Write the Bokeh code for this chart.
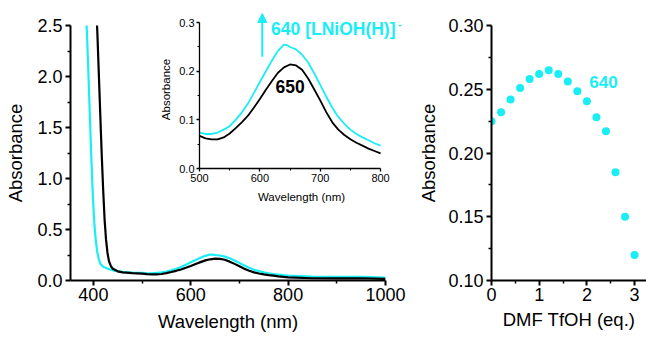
from bokeh.plotting import figure
from bokeh.layouts import row
from bokeh.models import Label, Arrow, NormalHead, Range1d, FixedTicker, PrintfTickFormatter
from bokeh.embed import file_html
from bokeh.resources import INLINE

# ---- data: spectra (wavelength nm, absorbance) ----
black_wl = [405, 408, 411, 414, 417, 420, 423, 426, 429, 432, 436, 440, 450, 460, 480,
            500, 510, 520, 530, 540, 550, 560, 570, 580, 590, 600, 610, 620, 630, 640,
            650, 660, 670, 680, 690, 700, 710, 720, 730, 740, 750, 760, 770, 780, 790,
            800, 850, 900, 950, 1000]
black_abs = [2.75, 2.45, 2.05, 1.65, 1.25, 0.90, 0.60, 0.40, 0.27, 0.19, 0.14, 0.115, 0.09, 0.08, 0.072,
             0.067, 0.062, 0.060, 0.060, 0.064, 0.072, 0.083, 0.095, 0.108, 0.125, 0.143, 0.162, 0.180, 0.197, 0.208,
             0.214, 0.212, 0.203, 0.185, 0.163, 0.140, 0.116, 0.095, 0.080, 0.069, 0.060, 0.053, 0.047, 0.041, 0.036,
             0.031, 0.022, 0.020, 0.022, 0.015]

cyan_wl = [384, 387, 390, 393, 396, 399, 402, 405, 408, 411, 415, 420, 430, 440, 450, 460, 480,
           500, 510, 520, 530, 540, 550, 560, 570, 580, 590, 600, 610, 620, 630, 640, 645,
           650, 660, 670, 680, 690, 700, 710, 720, 730, 740, 750, 760, 770, 780, 790,
           800, 850, 900, 950, 1000]
cyan_abs = [2.75, 2.40, 2.00, 1.58, 1.18, 0.82, 0.56, 0.39, 0.28, 0.21, 0.16, 0.135, 0.115, 0.10, 0.09, 0.084, 0.078,
            0.074, 0.071, 0.071, 0.074, 0.080, 0.087, 0.100, 0.115, 0.133, 0.155, 0.178, 0.200, 0.222, 0.242, 0.255, 0.254,
            0.250, 0.245, 0.234, 0.218, 0.196, 0.172, 0.148, 0.125, 0.106, 0.092, 0.080, 0.071, 0.064, 0.058, 0.052,
            0.047, 0.038, 0.036, 0.037, 0.028]

# ---- data: titration at 640 nm ----
eq_tfoh = [0.0, 0.2, 0.4, 0.6, 0.8, 1.0, 1.2, 1.4, 1.6, 1.8, 2.0, 2.2, 2.4, 2.6, 2.8, 3.0]
abs_640 = [0.225, 0.232, 0.242, 0.251, 0.258, 0.262, 0.265, 0.262, 0.256, 0.2485, 0.2405, 0.228, 0.217, 0.185, 0.150, 0.120]

main_x_ticks = [400, 600, 800, 1000]
main_y_ticks = [0.0, 0.5, 1.0, 1.5, 2.0, 2.5]
inset_x_ticks = [500, 600, 700, 800]
inset_y_ticks = [0.0, 0.1, 0.2, 0.3]
right_x_ticks = [0, 1, 2, 3]
right_y_ticks = [0.10, 0.15, 0.20, 0.25, 0.30]

CYAN = "#19EEF5"
FONT = "Liberation Sans"


def style_axes(p, tick_fs, label_fs, lw=2, tick_out=5, minor_out=3):
    for ax in list(p.xaxis) + list(p.yaxis):
        ax.axis_line_width = lw
        ax.axis_line_color = "black"
        ax.major_tick_line_width = lw
        ax.major_tick_line_color = "black"
        ax.minor_tick_line_width = lw * 0.75
        ax.minor_tick_line_color = "black"
        ax.major_tick_in = 0
        ax.major_tick_out = tick_out
        ax.minor_tick_in = 0
        ax.minor_tick_out = minor_out
        ax.major_label_text_font = FONT
        ax.major_label_text_font_size = tick_fs
        ax.major_label_text_color = "black"
        ax.axis_label_text_font = FONT
        ax.axis_label_text_font_size = label_fs
        ax.axis_label_text_font_style = "normal"
        ax.axis_label_text_color = "black"
    p.xgrid.visible = False
    p.ygrid.visible = False
    p.outline_line_color = None


# ---------------- main spectrum ----------------
main = figure(width=415, height=337, output_backend="svg", toolbar_location=None,
              x_range=Range1d(353, 1000), y_range=Range1d(0, 2.5),
              min_border_left=70, min_border_right=30, min_border_top=25, min_border_bottom=57)
main.line(cyan_wl, cyan_abs, line_color=CYAN, line_width=2.2)
main.line(black_wl, black_abs, line_color="black", line_width=2.2)
main.xaxis.ticker = FixedTicker(ticks=main_x_ticks, minor_ticks=[500, 700, 900])
main.yaxis.ticker = FixedTicker(ticks=main_y_ticks, minor_ticks=[0.25, 0.75, 1.25, 1.75, 2.25])
main.yaxis.formatter = PrintfTickFormatter(format="%.1f")
main.xaxis.axis_label = "Wavelength (nm)"
main.yaxis.axis_label = "Absorbance"
style_axes(main, "18px", "18.5px")
main.xaxis.major_label_standoff = 2
main.yaxis.major_label_standoff = 3
main.xaxis.axis_label_standoff = 7
main.yaxis.axis_label_standoff = 8

# ---------------- right: titration ----------------
right = figure(width=231, height=337, output_backend="svg", toolbar_location=None,
               x_range=Range1d(0, 3.25), y_range=Range1d(0.10, 0.30),
               min_border_left=74, min_border_right=0, min_border_top=25, min_border_bottom=54)
right.scatter(eq_tfoh, abs_640, size=8, fill_color=CYAN, line_color=None)
right.xaxis.ticker = FixedTicker(ticks=right_x_ticks, minor_ticks=[0.5, 1.5, 2.5])
right.yaxis.ticker = FixedTicker(ticks=right_y_ticks, minor_ticks=[0.125, 0.175, 0.225, 0.275])
right.yaxis.formatter = PrintfTickFormatter(format="%.2f")
right.xaxis.axis_label = "DMF TfOH (eq.)"
right.yaxis.axis_label = "Absorbance"
style_axes(right, "18px", "18.5px")
right.xaxis.major_label_standoff = 2
right.yaxis.major_label_standoff = 3
right.xaxis.axis_label_standoff = 5
right.yaxis.axis_label_standoff = 6
right.add_layout(Label(x=2.05, y=0.251, text="640", text_color=CYAN, text_font=FONT,
                       text_font_size="17px", text_font_style="bold"))

# ---------------- inset ----------------
in_black_wl = [w for w in black_wl if 500 <= w <= 800]
in_black_abs = [a for w, a in zip(black_wl, black_abs) if 500 <= w <= 800]
in_cyan_wl = [w for w in cyan_wl if 500 <= w <= 800]
in_cyan_abs = [a for w, a in zip(cyan_wl, cyan_abs) if 500 <= w <= 800]

inset = figure(width=246, height=205, output_backend="svg", toolbar_location=None,
               x_range=Range1d(500, 838), y_range=Range1d(0, 0.325),
               min_border_left=41, min_border_right=0, min_border_top=10, min_border_bottom=37,
               background_fill_color=None, border_fill_color=None,
               styles={"position": "absolute", "left": "157px", "top": "0px"})
inset.line(in_cyan_wl, in_cyan_abs, line_color=CYAN, line_width=1.8)
inset.line(in_black_wl, in_black_abs, line_color="black", line_width=1.8)
inset.xaxis.ticker = FixedTicker(ticks=inset_x_ticks, minor_ticks=[550, 650, 750])
inset.yaxis.ticker = FixedTicker(ticks=inset_y_ticks, minor_ticks=[0.05, 0.15, 0.25])
inset.yaxis.formatter = PrintfTickFormatter(format="%.1f")
inset.xaxis.bounds = (500, 800)
inset.yaxis.bounds = (0, 0.3)
inset.xaxis.axis_label = "Wavelength (nm)"
inset.yaxis.axis_label = "Absorbance"
style_axes(inset, "11px", "11.5px", lw=1.3, tick_out=3, minor_out=2)
inset.xaxis.major_label_standoff = 2
inset.yaxis.major_label_standoff = 2
inset.xaxis.axis_label_standoff = 6
inset.yaxis.axis_label_standoff = 4
inset.add_layout(Label(x=618.6, y=0.266, text="640 [LNiOH(H)]", text_color=CYAN, text_font=FONT,
                       text_font_size="17.5px", text_font_style="bold"))
inset.add_layout(Label(x=829, y=0.29, text="-", text_color=CYAN, text_font=FONT,
                       text_font_size="11px", text_font_style="bold"))
inset.add_layout(Label(x=626, y=0.156, text="650", text_color="black", text_font=FONT,
                       text_font_size="17.5px", text_font_style="bold"))
inset.add_layout(Arrow(x_start=604, y_start=0.23, x_end=604, y_end=0.319, line_color=CYAN, line_width=2,
                       end=NormalHead(size=9, fill_color=CYAN, line_color=CYAN)))

layout = row(main, right)
open("out.html", "w").write(file_html([layout, inset], INLINE))
